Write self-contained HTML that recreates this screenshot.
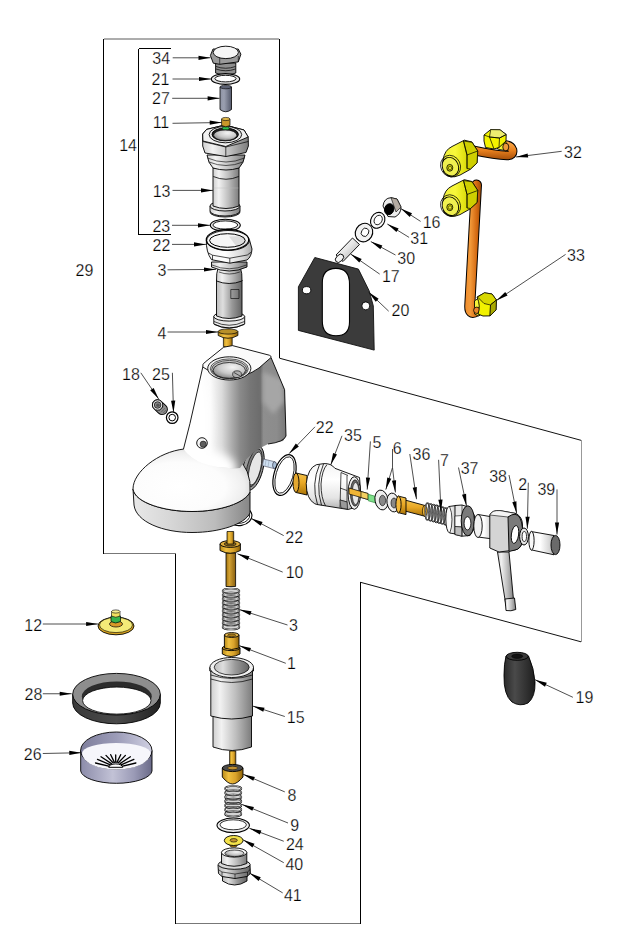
<!DOCTYPE html>
<html><head><meta charset="utf-8"><style>
html,body{margin:0;padding:0;background:#fff;}
svg{display:block;}
text{font-family:"Liberation Sans",sans-serif;font-size:16.0px;fill:#000;stroke:#fff;stroke-width:0.25px;}
</style></head><body>
<svg width="624" height="946" viewBox="0 0 624 946">
<rect width="624" height="946" fill="#fff"/>
<g fill="none" stroke-width="1" shape-rendering="crispEdges">
<path d="M103.5 38.5 V553.5 M279.5 39 V358" stroke="#000"/>

<path d="M103.5 553.5 H175.5 V923.5" stroke="#000"/>
<path d="M103.5 553.5 H175.5" stroke="#777"/>
<path d="M175.5 923.5 H360.5" stroke="#777"/>
<path d="M360.5 582.3 V923.5" stroke="#000"/>
<path d="M581 440.3 V641.8" stroke="#999"/>
</g>
<path d="M279.5 358.2 L581 440.3 M360.5 582.3 L581 641.8" stroke="#111" stroke-width="1" fill="none"/>
<path d="M104 39 H279" stroke="#5a5a5a" stroke-width="1" fill="none"/>
<path d="M138.5 48.5 H171 M138.5 48.5 V234.5 H171" stroke="#000" stroke-width="1" fill="none" shape-rendering="crispEdges"/>
<defs>
 <linearGradient id="gMetal" x1="0" x2="1" y1="0" y2="0">
  <stop offset="0" stop-color="#cfcfcf"/><stop offset="0.22" stop-color="#f2f2f2"/>
  <stop offset="0.6" stop-color="#bdbdbd"/><stop offset="1" stop-color="#7c7c7c"/>
 </linearGradient>
 <linearGradient id="gMetalD" x1="0" x2="1" y1="0" y2="0">
  <stop offset="0" stop-color="#bdbdbd"/><stop offset="0.25" stop-color="#dedede"/>
  <stop offset="0.6" stop-color="#9a9a9a"/><stop offset="1" stop-color="#646464"/>
 </linearGradient>
 <linearGradient id="gWhite" x1="0" x2="1" y1="0" y2="0">
  <stop offset="0" stop-color="#f6f6f6"/><stop offset="0.4" stop-color="#ffffff"/>
  <stop offset="0.8" stop-color="#d6d6d6"/><stop offset="1" stop-color="#a8a8a8"/>
 </linearGradient>
 <linearGradient id="gBrass" x1="0" x2="1" y1="0" y2="0">
  <stop offset="0" stop-color="#b88a18"/><stop offset="0.3" stop-color="#f0c040"/>
  <stop offset="0.65" stop-color="#d9a22a"/><stop offset="1" stop-color="#8d6208"/>
 </linearGradient>
 <linearGradient id="gBrassV" x1="0" x2="0" y1="0" y2="1">
  <stop offset="0" stop-color="#f3c24a"/><stop offset="0.45" stop-color="#e9a825"/>
  <stop offset="1" stop-color="#a97408"/>
 </linearGradient>
 <linearGradient id="gBrassDk" x1="0" x2="1" y1="0" y2="0">
  <stop offset="0" stop-color="#a07410"/><stop offset="0.35" stop-color="#d4a233"/>
  <stop offset="1" stop-color="#8a6010"/>
 </linearGradient>
 <linearGradient id="gPin" x1="0" x2="1" y1="0" y2="0">
  <stop offset="0" stop-color="#8e93a4"/><stop offset="0.35" stop-color="#9a9fb0"/>
  <stop offset="1" stop-color="#555a6c"/>
 </linearGradient>
 <linearGradient id="gHousing" gradientUnits="userSpaceOnUse" x1="185" x2="287" y1="0" y2="0">
  <stop offset="0" stop-color="#ffffff"/><stop offset="0.25" stop-color="#fafafa"/>
  <stop offset="0.36" stop-color="#dcdcdc"/><stop offset="0.46" stop-color="#acacac"/>
  <stop offset="0.54" stop-color="#8a8a8a"/><stop offset="0.64" stop-color="#767676"/>
  <stop offset="0.74" stop-color="#6c6c6c"/><stop offset="0.77" stop-color="#8e8e8e"/>
  <stop offset="0.9" stop-color="#8c8c8c"/><stop offset="1" stop-color="#767676"/>
 </linearGradient>
 <radialGradient id="gBowl" cx="0.6" cy="0.3" r="0.7">
  <stop offset="0" stop-color="#f4f4f4"/><stop offset="0.6" stop-color="#c8c8c8"/><stop offset="1" stop-color="#8a8a8a"/>
 </radialGradient>
 <linearGradient id="gPuckSide" x1="0" x2="1" y1="0" y2="0">
  <stop offset="0" stop-color="#e8e8e8"/><stop offset="0.3" stop-color="#d8d8d8"/>
  <stop offset="0.7" stop-color="#bcbcbc"/><stop offset="1" stop-color="#868686"/>
 </linearGradient>
 <radialGradient id="gPuckTop" cx="0.4" cy="0.6" r="0.65">
  <stop offset="0" stop-color="#ffffff"/><stop offset="0.6" stop-color="#fcfcfc"/><stop offset="0.85" stop-color="#eeeeee"/><stop offset="1" stop-color="#d0d0d0"/>
 </radialGradient>
 <linearGradient id="gYel" x1="0" x2="1" y1="0" y2="0">
  <stop offset="0" stop-color="#f0f040"/><stop offset="0.35" stop-color="#f8f83a"/>
  <stop offset="0.75" stop-color="#d6d600"/><stop offset="1" stop-color="#9c9c00"/>
 </linearGradient>
 <linearGradient id="gCopper" x1="0" x2="1" y1="0" y2="0">
  <stop offset="0" stop-color="#c4600c"/><stop offset="0.4" stop-color="#f39a3c"/>
  <stop offset="1" stop-color="#b85a0a"/>
 </linearGradient>
 <linearGradient id="gCopH" gradientUnits="userSpaceOnUse" x1="464" y1="0" x2="482" y2="0">
  <stop offset="0" stop-color="#f08a2a"/><stop offset="0.35" stop-color="#f39a3a"/>
  <stop offset="0.7" stop-color="#d46a12"/><stop offset="1" stop-color="#9a4806"/>
 </linearGradient>
 <linearGradient id="gCopV" gradientUnits="userSpaceOnUse" x1="0" y1="144" x2="0" y2="160">
  <stop offset="0" stop-color="#f6a040"/><stop offset="0.4" stop-color="#e8801e"/>
  <stop offset="1" stop-color="#a24c08"/>
 </linearGradient>
 <linearGradient id="g35" x1="0" x2="0" y1="0" y2="1">
  <stop offset="0" stop-color="#f4f4f4"/><stop offset="0.35" stop-color="#ffffff"/>
  <stop offset="0.75" stop-color="#e4e4e4"/><stop offset="1" stop-color="#b0b0b0"/>
 </linearGradient>
 <linearGradient id="gPin17" x1="0" x2="1" y1="0" y2="1">
  <stop offset="0" stop-color="#ffffff"/><stop offset="0.45" stop-color="#e8e8e8"/>
  <stop offset="1" stop-color="#a0a0a0"/>
 </linearGradient>
 <linearGradient id="gRubber" x1="0" x2="1" y1="0" y2="0">
  <stop offset="0" stop-color="#2a2a2a"/><stop offset="0.35" stop-color="#4a4a4a"/>
  <stop offset="1" stop-color="#1e1e1e"/>
 </linearGradient>
 <linearGradient id="gLav" x1="0" x2="1" y1="0" y2="0">
  <stop offset="0" stop-color="#8c8caa"/><stop offset="0.45" stop-color="#c2c2d6"/>
  <stop offset="0.75" stop-color="#9a9ab6"/><stop offset="1" stop-color="#6a6a88"/>
 </linearGradient>
 <linearGradient id="gLavIn" x1="0" x2="1" y1="0" y2="0">
  <stop offset="0" stop-color="#7e7e9c"/><stop offset="0.5" stop-color="#9c9cb8"/>
  <stop offset="1" stop-color="#d0d0e2"/>
 </linearGradient>
 <linearGradient id="gRing28" x1="0" x2="1" y1="0" y2="0">
  <stop offset="0" stop-color="#3a3a3a"/><stop offset="0.5" stop-color="#4a4a4a"/>
  <stop offset="1" stop-color="#222"/>
 </linearGradient>
</defs>

<!-- ===== top column ===== -->
<g stroke="#000" stroke-width="0.9">
 <!-- 34 -->
 <path d="M215.6 63 V73 Q225.7 77 235.8 73 V63 Z" fill="#8e8e8e"/>
 <path d="M216 66.5 Q225.7 70 235.5 66.5 M216 69 Q225.7 72.5 235.5 69" fill="none" stroke-width="0.7"/>
 <path d="M210.4 55.5 L213.3 63.2 L219.7 64.3 L238.3 61.9 L240.9 54.2 L238.3 49 L213 49 Z" fill="#9a9a9a"/>
 <path d="M219.7 64.3 L219.7 58 M238.3 61.9 L238.3 56" fill="none" stroke-width="0.6"/>
 <ellipse cx="225.8" cy="52.4" rx="12.6" ry="6.2" fill="#f6f6f6"/>
 <!-- 21 -->
 <ellipse cx="225.5" cy="79" rx="14.2" ry="5.4" fill="#e4e4e4" stroke-width="1.1"/>
 <ellipse cx="225.5" cy="78.6" rx="10.6" ry="3.3" fill="#fff" stroke-width="0.9"/>
 <!-- 27 -->
 <path d="M220 87 V109.5 Q225.75 114 231.5 109.5 V87 Z" fill="url(#gPin)" stroke-width="0.8"/>
 <ellipse cx="225.75" cy="87" rx="5.75" ry="1.8" fill="#5d6274" stroke-width="0.6"/>
 <!-- 13 lower ring -->
 <ellipse cx="225" cy="212" rx="15" ry="5" fill="#bbb"/>
 <path d="M210 206 V211 A15 5 0 0 0 240 211 V206 Z" fill="url(#gMetal)"/>
 <ellipse cx="225" cy="206" rx="15" ry="5" fill="#ddd"/>
 <!-- 13 cylinder -->
 <path d="M213 168 V206 Q226 211 239 206 V168 Z" fill="url(#gMetal)"/>
 <path d="M213.5 188 H238.5" stroke="#bbb" stroke-width="0.4"/>
 <path d="M213.3 176.5 Q226 182 238.7 176.5" fill="none" stroke-width="0.8"/>
 <!-- 13 neck -->
 <path d="M207 155 Q208 163 213 168 Q226 172 239 168 Q244 163 245 155 Z" fill="url(#gMetal)"/>
 <path d="M207.5 158 Q226 166 244.5 158 M209 162 Q226 169 243 162" fill="none" stroke-width="0.6"/>
 <!-- 13 hex -->
 <path d="M202.7 134 L206.6 129.4 L224.8 125 L244 130 L248.2 137 L248.4 146 L246 152.5 L226 156.5 L205 153 L202.7 146 Z" fill="url(#gMetal)"/>
 <path d="M202.7 141.5 L225.8 147 L248.3 141.5 M225.8 147 V156.3" fill="none" stroke-width="0.7"/>
 <path d="M202.7 134 L206.6 129.4 L224.8 125 L244 130 L248.2 137 L225.8 146.5 L202.9 141 Z" fill="#f0f0f0"/>
 <ellipse cx="225.4" cy="134.6" rx="16.3" ry="8.2" fill="#e8e8e8"/>
 <ellipse cx="225.2" cy="134.4" rx="13.2" ry="6.4" fill="#222"/>
 <ellipse cx="225.2" cy="135.2" rx="11.6" ry="5.3" fill="url(#gBowl)" stroke-width="0.6"/>
 <!-- 11 -->
 <rect x="222.4" y="126.8" width="6.8" height="3" rx="1.5" fill="#2fbf4f" stroke-width="0.5"/>
 <path d="M221.6 119 V125.5 Q225.8 128.2 230 125.5 V119 Z" fill="#c8962a" stroke-width="0.7"/>
 <ellipse cx="225.8" cy="119" rx="4.2" ry="1.6" fill="#e2b84a" stroke-width="0.6"/>
 <!-- 23 -->
 <ellipse cx="225.3" cy="225.3" rx="15" ry="6" fill="#e6e6e6" stroke-width="1.1"/>
 <ellipse cx="225.3" cy="225" rx="12.4" ry="4.1" fill="#fff" stroke-width="0.9"/>
</g>

<!-- ===== part 3 (upper) + 22 ===== -->
<g stroke="#000" stroke-width="0.9">
 <!-- bottom ring -->
 <path d="M213.8 316.5 V324 Q229.2 332 244.7 324 V316.5 Z" fill="#e8e8e8"/>
 <path d="M214 321.5 Q229.2 329 244.5 321.5 M214.3 324.5 Q229.2 331.5 244.3 324.5" fill="none" stroke-width="0.7"/>
 <ellipse cx="229.2" cy="316.5" rx="15.45" ry="4.6" fill="#f4f4f4"/>
 <!-- cylinder -->
 <path d="M216.5 280 V316 Q229 321 242 316 V280 Z" fill="url(#gMetalD)"/>
 <path d="M218.5 266 Q216 274 216.5 281 Q229 286 242 281 Q242.5 274 240 266 Z" fill="url(#gMetal)"/>
 <path d="M219 272 Q229.3 276 239.8 272" fill="none" stroke-width="0.6"/>
 <path d="M230.8 289.5 H239 V298.5 H230.8 Z" fill="none" stroke-width="0.6"/>
 <!-- thread ring -->
 <path d="M211.5 262 V267 Q229.3 275 247 267 V262 Z" fill="url(#gMetal)"/>
 <path d="M212 265 Q229.3 272.5 246.5 265" fill="none" stroke-width="0.6"/>
 <!-- head -->
 <path d="M206.3 240 Q206 252 211.5 259.7 L229.8 263.2 L247 260 Q251.5 257 252 249 L249.5 240 Z" fill="url(#gWhite)"/>
 <path d="M208.5 253 L212.5 255.2 L229.8 258.2 L247.3 255 L251.3 252 M229.8 258.2 V263.2 M212.5 255.2 V260" fill="none" stroke-width="0.7"/>
 <ellipse cx="228" cy="240.5" rx="21.3" ry="10" fill="#f6f6f6"/>
 <path d="M229 236.5 L244 236 L248 244 L238 248.5 Z" fill="#dcdcdc" stroke="none"/>
 <!-- 22 ring -->
 <ellipse cx="227.5" cy="239.7" rx="21.2" ry="10.3" fill="none" stroke-width="1.2"/>
 <ellipse cx="227.4" cy="240.5" rx="17.8" ry="6.8" fill="none" stroke-width="1"/>
 <!-- 4 -->
 <path d="M223.4 336 V346.5 Q227.8 349 232.2 346.5 V336 Z" fill="url(#gBrass)" stroke-width="0.7"/>
 <path d="M218.2 331.5 V335.5 Q228 341 237.9 335.5 V331.5 Z" fill="url(#gBrass)" stroke-width="0.8"/>
 <ellipse cx="228" cy="331.5" rx="9.85" ry="2.6" fill="#b8902a" stroke-width="0.7"/>
</g>

<!-- ===== housing 29 ===== -->
<clipPath id="cBody"><path d="M202.8 367 L190 423.3 L183.5 449 Q200 470 240 468 Q250 452 268 444 L283 441 L286 436 L284.6 389.7 L271 357.5 L257 369 Q232 386 202.8 367 Z"/></clipPath>
<filter id="fB4" x="-50%" y="-50%" width="200%" height="200%"><feGaussianBlur stdDeviation="4"/></filter>
<filter id="fB2" x="-50%" y="-50%" width="200%" height="200%"><feGaussianBlur stdDeviation="2"/></filter>
<g stroke="#000" stroke-width="0.9">
 <!-- side port -->
 <ellipse cx="253" cy="468" rx="10" ry="23" transform="rotate(14 253 468)" fill="#9a9a9a"/>
 <ellipse cx="254" cy="468" rx="7" ry="19.5" transform="rotate(14 254 468)" fill="#777" stroke-width="0.6"/>
 <ellipse cx="255" cy="468.5" rx="5.5" ry="17" transform="rotate(14 255 468.5)" fill="#e6e6e6" stroke-width="0.6"/>
 <!-- 22 lower ring -->
 <ellipse cx="240" cy="516.5" rx="12" ry="9" transform="rotate(-10 240 516.5)" fill="none" stroke-width="1.1"/>
 <ellipse cx="240" cy="516.5" rx="9.8" ry="6.8" transform="rotate(-10 240 516.5)" fill="none" stroke-width="0.8"/>
 <!-- puck band -->
 <path d="M133 489 C135 503 165 511.5 192 511.5 C220 511.5 245 503 250 492 L250 513 C245 524 220 532.5 192 532.5 C163 532.5 136 522 134 505 Z" fill="url(#gPuckSide)"/>
 <!-- puck top -->
 <path d="M133 489 C133 472 158 452 184 449 L235 455 Q252 470 250 492 C245 503 220 511.5 192 511.5 C165 511.5 135 503 133 489 Z" fill="url(#gPuckTop)"/>
 <!-- body -->
 <g clip-path="url(#cBody)" stroke="none">
  <rect x="180" y="340" width="110" height="135" fill="url(#gHousing)"/>
  <path d="M263 372 L283 380 L284 402 L273 414 L263 402 Z" fill="#a6a6a6" filter="url(#fB2)"/>
  <ellipse cx="200" cy="468" rx="36" ry="18" fill="#fff" filter="url(#fB4)"/>
  <ellipse cx="196" cy="420" rx="14" ry="50" fill="#fff" filter="url(#fB4)"/>
 </g>
 <path d="M183.5 449 L190 423.3 L202.8 367 M286 436 L284.6 389.7 L271 357.5 M286 436 Q284 442 268 444" fill="none"/>
 <!-- top face -->
 <path d="M202.8 367 Q202 364 205.2 362 L223.7 347.2 L232.5 345.6 L269.3 355.2 Q272 356.5 271 357.5 L259 368 Q232 387 202.8 367 Z" fill="#fbfbfb"/>
 <ellipse cx="229.3" cy="368.4" rx="21.6" ry="11.6" fill="#f0f0f0"/>
 <ellipse cx="229.3" cy="368.8" rx="19" ry="9.9" fill="#d8d8d8" stroke-width="0.6"/>
 <ellipse cx="229.3" cy="369.4" rx="17.6" ry="9" fill="#c4c4c4" stroke-width="0.6"/>
 <ellipse cx="229.3" cy="370.4" rx="16.2" ry="7.9" fill="url(#gBowl)" stroke-width="0.7"/>
 <ellipse cx="237" cy="374.2" rx="4.4" ry="3.4" fill="#b0b0b0" stroke-width="0.6"/>
 <path d="M234 372.5 L240 376" stroke-width="0.6"/>
 <!-- hole -->
 <circle cx="202" cy="443" r="5.3" fill="#f4f4f4"/>
 <circle cx="203.2" cy="444.2" r="3.1" fill="#5e5e5e" stroke-width="0.5"/>
 <!-- pin -->
 <path d="M263.5 459 L275 461.8 L274.2 468.6 L262.5 465.7 Z" fill="#cfe0f2" stroke="#445" stroke-width="0.6"/>
 <ellipse cx="274.6" cy="465.2" rx="2" ry="3.4" fill="#a9bfd8" stroke="#223" stroke-width="0.6"/>
 <path d="M266 460 L265 466.3 M269 460.7 L268 467" stroke="#8899aa" stroke-width="0.5"/>
</g>

<!-- ===== 18, 25 ===== -->
<g stroke="#000" stroke-width="0.9">
 <line x1="157.6" y1="405" x2="162.2" y2="409.4" stroke="#000" stroke-width="11.4" stroke-linecap="round"/>
 <line x1="157.6" y1="405" x2="162.2" y2="409.4" stroke="#8c8c8c" stroke-width="9.6" stroke-linecap="round"/>
 <path d="M159 411 L163.5 406.6 M161 412.3 L165.2 408 M163 413.2 L166.5 409.6" stroke="#555" stroke-width="0.7"/>
 <circle cx="157.6" cy="405" r="5.2" fill="#ececec"/>
 <circle cx="157.6" cy="405" r="3.3" fill="#8a8a8a" stroke-width="0.7"/>
 <circle cx="157.9" cy="405.3" r="1.8" fill="#555" stroke="none"/>
 <circle cx="172.2" cy="417.6" r="5.8" fill="#fff" stroke-width="1.2"/>
 <circle cx="172.2" cy="417.6" r="3.3" fill="#fff" stroke-width="1"/>
</g>

<!-- ===== side ring 22 ===== -->
<g stroke="#000" fill="none">
 <ellipse cx="284.5" cy="475" rx="10.5" ry="21" transform="rotate(16 284.5 475)" stroke-width="1.2"/>
 <ellipse cx="284.5" cy="475" rx="8.5" ry="18.8" transform="rotate(16 284.5 475)" stroke-width="0.8"/>
</g>

<!-- ===== 35, 5, 6, 36, 7, 37 ===== -->
<g stroke="#000" stroke-width="0.9">
 <!-- brass stub -->
 <path d="M296 473 L307 475.5 L307 495 L296 492.5 Z" fill="url(#gBrassV)"/>
 <ellipse cx="296" cy="482.7" rx="3" ry="9.7" fill="#e4a830"/>
 <!-- body -->
 <path d="M316.4 464.7 Q308 468 306.2 483.6 Q306.5 499 314.4 503.5 L316.4 504.4 L348.2 509.5 L356 507 L360.8 494 L359.5 477.5 L334.9 468.3 Q331 463.2 324 463.6 Z" fill="url(#g35)"/>
 <path d="M319.5 464.6 Q311 484 317.5 504.6 M323.5 464 Q315 484 321.5 505.2 M327 464.6 Q322 470 321 484 Q321 498 325.5 505.8" fill="none" stroke-width="0.8"/>
 <path d="M341 472.5 L348 475.5 M340 488 L347 490.5 M340 500 L347 502 M347 475.5 L347 508.5 M341 472.5 L340 507.5" fill="none" stroke-width="0.7"/>
 <path d="M340 500 L347 502 L347.5 509 L341 508 Z" fill="#9a9a9a" stroke-width="0.5"/>
 <ellipse cx="354.3" cy="493" rx="6.3" ry="16.3" fill="#f0f0f0"/>
 <ellipse cx="355" cy="493" rx="4.6" ry="13.2" fill="#6a6a6a" stroke-width="0.6"/>
 <ellipse cx="355.6" cy="493.5" rx="3.4" ry="11" fill="#e8e8e8" stroke-width="0.5"/>
 <!-- 5 rod -->
 <path d="M349 488 L368 493.5 L368 499.5 L349 494 Z" fill="#f0b535" stroke-width="0.7"/>
 <path d="M361 491.5 L368 493.5 L368 499.5 L361 497.5 Z" fill="#f4d060" stroke-width="0.6"/>
 <path d="M368.3 494.3 L376 496.5 L376 503 L368.3 500.8 Z" fill="#7fe08a" stroke="#1a7a2a" stroke-width="0.6"/>
 <!-- 6 washers -->
 <ellipse cx="381.5" cy="500" rx="6.5" ry="10" transform="rotate(-10 381.5 500)" fill="#eee"/>
 <ellipse cx="382.5" cy="500.5" rx="3.2" ry="5.2" fill="#888" stroke-width="0.6"/>
 <ellipse cx="393" cy="502.5" rx="6" ry="9.5" transform="rotate(-10 393 502.5)" fill="#eee"/>
 <ellipse cx="394" cy="503" rx="3" ry="5" fill="#888" stroke-width="0.6"/>
 <!-- 36 -->
 <path d="M405 500 L425 505.5 L425 516.3 L405 511 Z" fill="url(#gBrassV)"/>
 <ellipse cx="424.8" cy="511" rx="2.4" ry="5.4" fill="#e9b23a" stroke-width="0.6"/>
 <path d="M398 496 L406 498 L406 514.6 L398 512.6 Z" fill="url(#gBrassV)"/>
 <ellipse cx="398.5" cy="504.5" rx="2.6" ry="8.4" fill="#f1b83c"/>
 <!-- 7 spring -->
 <g fill="none">
 <ellipse cx="427.5" cy="511.5" rx="2.2" ry="8.6" stroke="#000" stroke-width="1.5"/>
 <ellipse cx="427.5" cy="511.5" rx="2.2" ry="8.6" stroke="#fff" stroke-width="0.5"/>
 <ellipse cx="430.5" cy="512.3" rx="2.2" ry="8.6" stroke="#000" stroke-width="1.5"/>
 <ellipse cx="430.5" cy="512.3" rx="2.2" ry="8.6" stroke="#fff" stroke-width="0.5"/>
 <ellipse cx="433.5" cy="513.1" rx="2.2" ry="8.6" stroke="#000" stroke-width="1.5"/>
 <ellipse cx="433.5" cy="513.1" rx="2.2" ry="8.6" stroke="#fff" stroke-width="0.5"/>
 <ellipse cx="436.5" cy="513.9" rx="2.2" ry="8.6" stroke="#000" stroke-width="1.5"/>
 <ellipse cx="436.5" cy="513.9" rx="2.2" ry="8.6" stroke="#fff" stroke-width="0.5"/>
 <ellipse cx="439.5" cy="514.7" rx="2.2" ry="8.6" stroke="#000" stroke-width="1.5"/>
 <ellipse cx="439.5" cy="514.7" rx="2.2" ry="8.6" stroke="#fff" stroke-width="0.5"/>
 <ellipse cx="442.5" cy="515.5" rx="2.2" ry="8.6" stroke="#000" stroke-width="1.5"/>
 <ellipse cx="442.5" cy="515.5" rx="2.2" ry="8.6" stroke="#fff" stroke-width="0.5"/>
 <ellipse cx="445.5" cy="516.3" rx="2.2" ry="8.6" stroke="#000" stroke-width="1.5"/>
 <ellipse cx="445.5" cy="516.3" rx="2.2" ry="8.6" stroke="#fff" stroke-width="0.5"/>
 </g>
 <!-- 37 nut -->
 <path d="M449 506.5 Q446 507 445.8 519 Q446 531 449.5 533 L456 534 L456 505.5 Z" fill="url(#gWhite)"/>
 <path d="M449.5 506.3 Q452 512 452 519.5 Q452 528 449.8 533" fill="none" stroke-width="0.7"/>
 <path d="M455 505.5 L462 505 L470 507.5 L474.6 516 L474.6 528 L470 535.5 L462 536.2 L455 534.5 Z" fill="#e8e8e8"/>
 <path d="M455 516 L462 515.5 L462 527 L455 526.5 Z" fill="#fafafa" stroke-width="0.6"/>
 <path d="M455 526.5 L462 527 L462 536.2 L455 534.5 Z" fill="#bdbdbd" stroke-width="0.6"/>
 <path d="M462 505 L462 536.2" fill="none" stroke-width="0.6"/>
 <ellipse cx="467.8" cy="520.8" rx="6.6" ry="15" fill="#7a7a7a"/>
 <ellipse cx="467.5" cy="523.3" rx="3.4" ry="6.6" fill="#fff" stroke-width="0.8"/>
</g>

<!-- ===== 38, 2, 39 ===== -->
<g stroke="#000" stroke-width="0.9">
 <!-- stem -->
 <path d="M497.5 552 L509 552 L514 605 L506 606 Z" fill="url(#gMetal)"/>
 <path d="M505 599 L514.5 598 L515.8 609.5 Q511 611.5 506 610.5 Z" fill="url(#gMetal)"/>
 <!-- stub cylinder -->
 <path d="M478 514.5 L493 517 L493 539 L478 537 Z" fill="url(#gWhite)"/>
 <ellipse cx="478" cy="526" rx="4.2" ry="11.5" fill="#f2f2f2"/>
 <!-- block -->
 <path d="M489.8 515 Q492 510 500 510.6 L516 513.5 Q522.5 517 522.5 525 L522.5 541 Q521 549 515 550 L499 552 L489.8 548 Z" fill="#d4d4d4"/>
 <path d="M489.8 515 Q492 510 500 510.6 L516 513.5 L508 517 Z" fill="#f4f4f4" stroke-width="0.6"/>
 <path d="M508 517 Q516 511 520 518 Q523.5 525 522.5 541 Q521 549 515 550 L509 551.5 Z" fill="#7a7a7a"/>
 <ellipse cx="515" cy="534.5" rx="3.6" ry="9" transform="rotate(8 515 534.5)" fill="#fff"/>
 <!-- 2 -->
 <ellipse cx="524" cy="536.5" rx="4.4" ry="8.5" fill="#e6e6e6" stroke-width="1"/>
 <ellipse cx="524.3" cy="536.5" rx="2.2" ry="5" fill="#fff" stroke-width="0.8"/>
 <!-- 39 -->
 <path d="M531 531.5 L554 535.5 L554 554.8 L531 549.8 Z" fill="url(#gWhite)"/>
 <ellipse cx="531.5" cy="540.7" rx="2.6" ry="9.4" fill="#f8f8f8"/>
 <ellipse cx="555.5" cy="545" rx="4.5" ry="9.6" fill="#6a6a6a"/>
</g>

<!-- ===== 16 31 30 17 20 ===== -->
<g stroke="#000" stroke-width="0.9">
 <!-- gasket 20 -->
 <path d="M298.4 286.8 L314.8 257.5 L358.4 269.1 L369.2 290.9 L373.3 305.9 L374.2 350.1 L298.4 330.4 Z" fill="#3b3b3b" stroke="#111"/>
 <path d="M322.3 283 Q322.3 268.4 335.9 268.4 Q349.5 268.4 349.5 284 L349.5 322 Q349.5 335.8 336 335.8 Q322.3 335.8 322.3 321 Z" fill="#fff" stroke="#000" stroke-width="1.1"/>
 <ellipse cx="306.6" cy="290.2" rx="4.2" ry="3.6" fill="#fff"/>
 <ellipse cx="365.8" cy="305.9" rx="4" ry="4" fill="#fff"/>
 <!-- 17 pin -->
 <path d="M336 255 L352.5 238 L359.5 244.5 L343 261.5 Z" fill="url(#gPin17)"/>
 <ellipse cx="339.5" cy="258.3" rx="3.2" ry="4.8" transform="rotate(45 339.5 258.3)" fill="#f4f4f4"/>
 <!-- 30 -->
 <ellipse cx="364" cy="232.6" rx="8.5" ry="9.5" transform="rotate(30 364 232.6)" fill="#f2f2f2" stroke-width="1.1"/>
 <ellipse cx="365" cy="232.3" rx="3.6" ry="4.3" transform="rotate(30 365 232.3)" fill="#fff" stroke-width="0.8"/>
 <!-- 31 -->
 <ellipse cx="377.7" cy="220.3" rx="6.8" ry="8.3" transform="rotate(30 377.7 220.3)" fill="#fafafa" stroke-width="1.1"/>
 <ellipse cx="378.2" cy="220" rx="3.8" ry="5" transform="rotate(30 378.2 220)" fill="#fff" stroke-width="0.8"/>
 <!-- 16 -->
 <path d="M383 206 Q384 198 391 197.7 L397 199 L401 207 Q401 214 395 217 L388 216.5 Z" fill="#ececec"/>
 <path d="M391 197.7 L397 199 L401 207 L396 212 Z" fill="#b5aca3" stroke-width="0.6"/>
 <ellipse cx="389.2" cy="209.2" rx="4.6" ry="5.6" transform="rotate(20 389.2 209.2)" fill="#000"/>
</g>

<!-- ===== copper pipes 32, 33 ===== -->
<g stroke="#000" stroke-width="0.9">
 <!-- 32 tube -->
 <path d="M474 150.5 Q495 155 507 155.5 Q513.5 155.5 512.5 150 Q511 145.5 505 145" fill="none" stroke="#000" stroke-width="9.6" stroke-linecap="round"/>
 <path d="M474 150.5 Q495 155 507 155.5 Q513.5 155.5 512.5 150 Q511 145.5 505 145" fill="none" stroke="url(#gCopV)" stroke-width="7.6" stroke-linecap="round"/>
 <!-- 32 small fitting -->
 <path d="M497 138.5 L505.5 141 Q508.5 146 506 150.8 L497.5 149 Z" fill="url(#gYel)" stroke-width="0.8"/>
 <ellipse cx="505.8" cy="147" rx="3" ry="3.8" fill="#f09a38" stroke-width="0.8"/>
 <path d="M484 135 L490.7 129.6 L500 129.8 L506.2 134.5 L506 141 L499 147.5 L494 149 L485.5 147.5 L484 141 Z" fill="#f4f400"/>
 <path d="M490.7 129.6 L500 129.8 L506.2 134.5 L499.5 138 L489.5 137 Z" fill="#eded70" stroke-width="0.7"/>
 <path d="M484 135 L489.5 137 L494 149 M489.5 137 L499.5 138 L499 147.5 M499.5 138 L506.2 134.5" fill="none" stroke-width="0.7"/>
 <!-- 32 big fitting -->
 <path d="M443 160 Q444.5 150 452 146.5 L464.3 140.2 L472 142 L477.7 151 L477 163 L470 169.5 L460 175.1 Q449 180 443.5 172 Z" fill="url(#gYel)"/>
 <path d="M463.5 141 L472 142.3 L477.7 151 L477 163 L470.5 169 L467 168.5 L467 155 Z" fill="#cfcf00" stroke-width="0.7"/>
 <path d="M463.5 141 L467 155 L477.7 151 M467 155 L467 168.5" fill="none" stroke-width="0.7"/>
 <ellipse cx="450.4" cy="166.7" rx="8" ry="9.6" transform="rotate(-25 450.4 166.7)" fill="#f0f050"/>
 <ellipse cx="450.8" cy="166.2" rx="9.8" ry="11" transform="rotate(-25 450.4 166.7)" fill="none" stroke-width="0.7"/>
 <ellipse cx="449.8" cy="167.8" rx="3" ry="3.4" fill="#d6d600" stroke-width="0.8"/>
 <ellipse cx="450" cy="168" rx="1.6" ry="1.8" fill="#e8e830" stroke-width="0.5"/>
 <!-- 33 tube -->
 <path d="M476.5 185 L469.8 305 Q469 315.5 477 311" fill="none" stroke="#000" stroke-width="11" stroke-linecap="round"/>
 <path d="M476.5 185 L469.8 305 Q469 315.5 477 311" fill="none" stroke="url(#gCopH)" stroke-width="9" stroke-linecap="round"/>
 <!-- 33 upper fitting -->
 <path d="M443 199.5 Q444.5 189.5 452 186 L464.3 179.7 L472 181.5 L477.7 190.5 L477 202.5 L470 209 L460 214.6 Q449 219.5 443.5 211.5 Z" fill="url(#gYel)"/>
 <path d="M463.5 180.5 L472 181.8 L477.7 190.5 L477 202.5 L470.5 208.5 L467 208 L467 194.5 Z" fill="#cfcf00" stroke-width="0.7"/>
 <path d="M463.5 180.5 L467 194.5 L477.7 190.5 M467 194.5 L467 208" fill="none" stroke-width="0.7"/>
 <ellipse cx="450.4" cy="206.2" rx="8" ry="9.6" transform="rotate(-25 450.4 206.2)" fill="#f0f050"/>
 <ellipse cx="450.8" cy="205.7" rx="9.8" ry="11" transform="rotate(-25 450.4 206.2)" fill="none" stroke-width="0.7"/>
 <ellipse cx="449.8" cy="207.3" rx="3" ry="3.4" fill="#d6d600" stroke-width="0.8"/>
 <ellipse cx="450" cy="207.5" rx="1.6" ry="1.8" fill="#e8e830" stroke-width="0.5"/>
 <!-- 33 lower fitting -->
 <path d="M474.5 301 L480 297 Q484 300 485 306 Q484 313 479 316 L474.5 314 Z" fill="url(#gYel)" stroke-width="0.8"/>
 <ellipse cx="476.8" cy="310.3" rx="3.2" ry="3.2" fill="#e8862a" stroke-width="0.8"/>
 <path d="M477 297 L484.5 292.8 L492 294 L496.4 300 L496 310 L490 315.9 L483 316 L478 314 Q481 306 477 297 Z" fill="#f2f200"/>
 <path d="M484.5 292.8 L492 294 L496.4 300 L490.5 305 L484 303.5 L477.5 297 Z" fill="#d8d800" stroke-width="0.7"/>
 <path d="M490.5 305 L490 315.9 M490.5 305 L496.4 300" fill="none" stroke-width="0.7"/>
 <path d="M490.5 305 L496.4 300 L496 310 L490 315.9 Z" fill="#a8a800" stroke-width="0.7"/>
</g>

<!-- ===== lower column: 22, 10, 3, 1, 15, 8, 9, 24, 40, 41 ===== -->
<g stroke="#000" stroke-width="0.9">
 <!-- 10 -->
 <path d="M226 553 V586.5 H235.6 V553 Z" fill="url(#gBrassDk)" stroke-width="0.8"/>
 <path d="M220 544 V550.5 Q230.2 556 240.4 550.5 V544 Z" fill="url(#gBrass)"/>
 <ellipse cx="230.2" cy="544" rx="10.2" ry="3.4" fill="#dcaa3a"/>
 <ellipse cx="230.2" cy="544" rx="6" ry="2" fill="#8a6a20" stroke-width="0.6"/>
 <path d="M227 531.5 V544 H233.7 V531.5 Z" fill="url(#gBrass)" stroke-width="0.7"/>
 <!-- 3 spring -->
 <g fill="none">
 <rect x="224.6" y="588.5" width="12.8" height="41.0" fill="#d4d4d4" stroke="none"/>
 <ellipse cx="231" cy="591.10" rx="8.4" ry="2.6" stroke="#000" stroke-width="1.7"/>
 <ellipse cx="231" cy="591.10" rx="8.4" ry="2.6" stroke="#fff" stroke-width="0.68"/>
 <ellipse cx="231" cy="595.08" rx="8.4" ry="2.6" stroke="#000" stroke-width="1.7"/>
 <ellipse cx="231" cy="595.08" rx="8.4" ry="2.6" stroke="#fff" stroke-width="0.68"/>
 <ellipse cx="231" cy="599.06" rx="8.4" ry="2.6" stroke="#000" stroke-width="1.7"/>
 <ellipse cx="231" cy="599.06" rx="8.4" ry="2.6" stroke="#fff" stroke-width="0.68"/>
 <ellipse cx="231" cy="603.03" rx="8.4" ry="2.6" stroke="#000" stroke-width="1.7"/>
 <ellipse cx="231" cy="603.03" rx="8.4" ry="2.6" stroke="#fff" stroke-width="0.68"/>
 <ellipse cx="231" cy="607.01" rx="8.4" ry="2.6" stroke="#000" stroke-width="1.7"/>
 <ellipse cx="231" cy="607.01" rx="8.4" ry="2.6" stroke="#fff" stroke-width="0.68"/>
 <ellipse cx="231" cy="610.99" rx="8.4" ry="2.6" stroke="#000" stroke-width="1.7"/>
 <ellipse cx="231" cy="610.99" rx="8.4" ry="2.6" stroke="#fff" stroke-width="0.68"/>
 <ellipse cx="231" cy="614.97" rx="8.4" ry="2.6" stroke="#000" stroke-width="1.7"/>
 <ellipse cx="231" cy="614.97" rx="8.4" ry="2.6" stroke="#fff" stroke-width="0.68"/>
 <ellipse cx="231" cy="618.94" rx="8.4" ry="2.6" stroke="#000" stroke-width="1.7"/>
 <ellipse cx="231" cy="618.94" rx="8.4" ry="2.6" stroke="#fff" stroke-width="0.68"/>
 <ellipse cx="231" cy="622.92" rx="8.4" ry="2.6" stroke="#000" stroke-width="1.7"/>
 <ellipse cx="231" cy="622.92" rx="8.4" ry="2.6" stroke="#fff" stroke-width="0.68"/>
 <ellipse cx="231" cy="626.90" rx="8.4" ry="2.6" stroke="#000" stroke-width="1.7"/>
 <ellipse cx="231" cy="626.90" rx="8.4" ry="2.6" stroke="#fff" stroke-width="0.68"/>
 </g>
 <!-- 1 -->
 <path d="M222.3 648 V654 Q231 659 240 654 V648 Z" fill="url(#gBrass)"/>
 <ellipse cx="231.1" cy="648" rx="8.9" ry="2.6" fill="#d9a532"/>
 <path d="M224.4 635 V648 Q231.7 651 239 648 V635 Z" fill="url(#gBrass)"/>
 <ellipse cx="231.7" cy="635" rx="7.3" ry="2.4" fill="#e8b84a"/>
 <ellipse cx="231.7" cy="635.3" rx="4" ry="1.4" fill="#a87a18" stroke-width="0.5"/>
 <!-- 15 -->
 <path d="M213 716 V747 Q232.2 754 251.5 747 V716 Z" fill="url(#gMetal)"/>
 <path d="M210.8 668 V716 Q231.7 722 252.5 716 V668 Z" fill="url(#gMetal)"/>
 <path d="M210.8 675 Q231.7 682 252.5 675 M210.8 679 Q231.7 686 252.5 679" fill="none" stroke-width="0.7"/>
 <path d="M209.8 667.5 V671 Q231.7 679 253.5 671 V667.5 Z" fill="#e4e4e4"/>
 <ellipse cx="231.7" cy="667.5" rx="21.8" ry="10" fill="#f0f0f0"/>
 <ellipse cx="231.7" cy="667.2" rx="17.5" ry="7.8" fill="url(#gMetalD)" stroke-width="0.7"/>
 <!-- 8 -->
 <path d="M229.6 751 V766 H235.8 V751 Z" fill="url(#gBrass)" stroke-width="0.7"/>
 <path d="M222.3 768 V777 Q228 784 232.6 784 Q237 784 243 777 V768 Z" fill="url(#gBrass)"/>
 <ellipse cx="232.6" cy="768" rx="10.3" ry="3.6" fill="#4a4a4a"/>
 <ellipse cx="232.6" cy="768" rx="5" ry="1.8" fill="#c09030" stroke-width="0.5"/>
 <!-- 9 spring -->
 <g fill="none">
 <rect x="227.0" y="786.0" width="12.4" height="30.5" fill="#d4d4d4" stroke="none"/>
 <ellipse cx="233.2" cy="788.60" rx="8.2" ry="2.6" stroke="#000" stroke-width="1.6"/>
 <ellipse cx="233.2" cy="788.60" rx="8.2" ry="2.6" stroke="#fff" stroke-width="0.64"/>
 <ellipse cx="233.2" cy="792.82" rx="8.2" ry="2.6" stroke="#000" stroke-width="1.6"/>
 <ellipse cx="233.2" cy="792.82" rx="8.2" ry="2.6" stroke="#fff" stroke-width="0.64"/>
 <ellipse cx="233.2" cy="797.03" rx="8.2" ry="2.6" stroke="#000" stroke-width="1.6"/>
 <ellipse cx="233.2" cy="797.03" rx="8.2" ry="2.6" stroke="#fff" stroke-width="0.64"/>
 <ellipse cx="233.2" cy="801.25" rx="8.2" ry="2.6" stroke="#000" stroke-width="1.6"/>
 <ellipse cx="233.2" cy="801.25" rx="8.2" ry="2.6" stroke="#fff" stroke-width="0.64"/>
 <ellipse cx="233.2" cy="805.47" rx="8.2" ry="2.6" stroke="#000" stroke-width="1.6"/>
 <ellipse cx="233.2" cy="805.47" rx="8.2" ry="2.6" stroke="#fff" stroke-width="0.64"/>
 <ellipse cx="233.2" cy="809.68" rx="8.2" ry="2.6" stroke="#000" stroke-width="1.6"/>
 <ellipse cx="233.2" cy="809.68" rx="8.2" ry="2.6" stroke="#fff" stroke-width="0.64"/>
 <ellipse cx="233.2" cy="813.90" rx="8.2" ry="2.6" stroke="#000" stroke-width="1.6"/>
 <ellipse cx="233.2" cy="813.90" rx="8.2" ry="2.6" stroke="#fff" stroke-width="0.64"/>
 </g>
 <!-- 24 -->
 <ellipse cx="233.2" cy="825.3" rx="16.2" ry="7.3" fill="#eee" stroke-width="1.1"/>
 <ellipse cx="233.2" cy="824.8" rx="13.2" ry="5" fill="#fff" stroke-width="0.8"/>
 <!-- 40 -->
 <path d="M228 843 L231 847 L236 847 L239 843 Z" fill="#c08a20" stroke-width="0.6"/>
 <ellipse cx="233.7" cy="840.5" rx="9.4" ry="5" fill="#f4e24a"/>
 <ellipse cx="233.7" cy="840.3" rx="3.6" ry="1.8" fill="#c09030" stroke-width="0.6"/>
 <!-- 41 -->
 <path d="M222.5 876 V881 Q234.5 889 247 881 V876 Z" fill="url(#gMetalD)"/>
 <path d="M218 865 L218.5 873.5 L222 876.5 L235 878.5 L247 876.5 L250.4 873.5 L250 865 Z" fill="url(#gMetalD)"/>
 <path d="M218.2 869.5 L222 872 L235 874 L247.5 872 L250.2 869.5 M235 874 V878.5 M222 872 V876.5 M247.5 872 V876.5" fill="none" stroke-width="0.6"/>
 <ellipse cx="234.2" cy="864.5" rx="16" ry="4.8" fill="#d8d8d8"/>
 <path d="M221.5 852.5 V863.5 Q234 869 246.8 863.5 V852.5 Z" fill="url(#gMetal)"/>
 <ellipse cx="234.1" cy="852.5" rx="12.7" ry="4.6" fill="#fafafa"/>
 <ellipse cx="234.4" cy="853.3" rx="9.6" ry="3.3" fill="url(#gBowl)" stroke-width="0.7"/>
</g>

<!-- ===== left column: 12, 28, 26 ===== -->
<g stroke="#000" stroke-width="0.9">
 <!-- 12 -->
 <ellipse cx="116" cy="626" rx="18" ry="8.8" fill="#d9a520"/>
 <ellipse cx="116" cy="625" rx="16.5" ry="7.6" fill="#f4ea78" stroke-width="0.6"/>
 <ellipse cx="116" cy="624" rx="6.5" ry="3" fill="#d89a28" stroke-width="0.7"/>
 <path d="M111 616 V621.5 Q115.5 624.5 120.5 621.5 V616 Z" fill="#34b24a" stroke-width="0.7"/>
 <path d="M111.5 611.5 V616 Q115.8 618.5 120 616 V611.5 Z" fill="#f2e060" stroke-width="0.6"/>
 <ellipse cx="115.8" cy="611.5" rx="4.2" ry="1.6" fill="#f8f090" stroke-width="0.6"/>
 <!-- 28 -->
 <path d="M72.7 694.2 V703 A43.8 20.8 0 0 0 160.3 703 V694.2 Z" fill="url(#gRing28)"/>
 <ellipse cx="116.5" cy="694.2" rx="43.8" ry="20.8" fill="#8e8e8e"/>
 <ellipse cx="116.8" cy="696.4" rx="35" ry="15" fill="#2c2c2c" stroke="none"/>
 <ellipse cx="116.8" cy="700.6" rx="34.2" ry="13.5" fill="#fff" stroke-width="0.8"/>
 <!-- 26 -->
 <path d="M80.7 750.5 V771 A35.7 13 0 0 0 152 771 V750.5 Z" fill="url(#gLav)"/>
 <ellipse cx="116.3" cy="750.5" rx="35.7" ry="18.5" fill="url(#gLavIn)"/>
 <path d="M82 753 A34.3 16.5 0 0 0 150.6 753 A34.3 10 0 0 0 82 753 Z" fill="#f6f6fb" stroke="none"/>
 <g stroke="#000" stroke-width="1.3" stroke-linecap="round">
  <path d="M109.7 766.3 L95.5 763 M110.3 764.8 L97.5 759.3 M111.4 763.6 L101 756.8 M113 762.7 L106 755.4 M115.7 762.3 L115.7 755 M114.4 762.4 L110.7 754.7 M117 762.4 L120.7 754.7 M118.4 762.7 L125.4 755.4 M120 763.6 L130.4 756.8 M121.1 764.8 L133.9 759.3 M121.7 766.3 L135.9 763"/>
 </g>
 <path d="M108.7 767.3 A7 3.4 0 0 1 122.7 767.3 Z" fill="#fff" stroke="#000" stroke-width="1"/>
</g>

<!-- ===== knob 19 ===== -->
<g stroke="#000" stroke-width="0.9">
 <path d="M506 656 Q504 664 504 675 Q503.5 695 512 702 Q520 707 528 703 Q535.5 697 535 682 Q534 668 528.5 656 Z" fill="url(#gRubber)"/>
 <ellipse cx="517.2" cy="656.3" rx="11" ry="4" fill="#3a3a3a"/>
 <ellipse cx="517.2" cy="656.3" rx="5.5" ry="2.2" fill="#111" stroke-width="0.5"/>
</g>

<g>
<path d="M172.70 57.80 L210.50 57.80" fill="none" stroke="#222" stroke-width="0.8"/>
<path d="M210.50 57.80 L198.50 59.90 L198.50 55.70 Z" fill="#000"/>
<path d="M172.50 79.00 L211.00 79.00" fill="none" stroke="#222" stroke-width="0.8"/>
<path d="M211.00 79.00 L199.00 81.10 L199.00 76.90 Z" fill="#000"/>
<path d="M172.20 98.30 L219.60 98.30" fill="none" stroke="#222" stroke-width="0.8"/>
<path d="M219.60 98.30 L207.60 100.40 L207.60 96.20 Z" fill="#000"/>
<path d="M172.50 123.30 L221.70 122.50" fill="none" stroke="#222" stroke-width="0.8"/>
<path d="M221.70 122.50 L209.74 124.79 L209.67 120.60 Z" fill="#000"/>
<path d="M172.50 190.40 L213.00 190.40" fill="none" stroke="#222" stroke-width="0.8"/>
<path d="M213.00 190.40 L201.00 192.50 L201.00 188.30 Z" fill="#000"/>
<path d="M172.00 225.30 L210.00 225.30" fill="none" stroke="#222" stroke-width="0.8"/>
<path d="M210.00 225.30 L198.00 227.40 L198.00 223.20 Z" fill="#000"/>
<path d="M172.00 244.40 L206.00 244.40" fill="none" stroke="#222" stroke-width="0.8"/>
<path d="M206.00 244.40 L194.00 246.50 L194.00 242.30 Z" fill="#000"/>
<path d="M167.50 269.80 L216.00 269.40" fill="none" stroke="#222" stroke-width="0.8"/>
<path d="M216.00 269.40 L204.02 271.60 L203.98 267.40 Z" fill="#000"/>
<path d="M167.50 332.00 L218.00 332.00" fill="none" stroke="#222" stroke-width="0.8"/>
<path d="M218.00 332.00 L206.00 334.10 L206.00 329.90 Z" fill="#000"/>
<path d="M140.80 372.80 L158.70 399.10" fill="none" stroke="#222" stroke-width="0.8"/>
<path d="M158.70 399.10 L150.21 390.36 L153.68 388.00 Z" fill="#000"/>
<path d="M172.40 372.80 L173.50 412.60" fill="none" stroke="#222" stroke-width="0.8"/>
<path d="M173.50 412.60 L171.07 400.66 L175.27 400.55 Z" fill="#000"/>
<path d="M315.00 426.80 L289.00 453.70" fill="none" stroke="#222" stroke-width="0.8"/>
<path d="M289.00 453.70 L295.83 443.61 L298.85 446.53 Z" fill="#000"/>
<path d="M342.00 435.80 L330.70 465.00" fill="none" stroke="#222" stroke-width="0.8"/>
<path d="M330.70 465.00 L333.07 453.05 L336.99 454.57 Z" fill="#000"/>
<path d="M370.40 441.40 L367.20 489.60" fill="none" stroke="#222" stroke-width="0.8"/>
<path d="M367.20 489.60 L365.90 477.49 L370.09 477.77 Z" fill="#000"/>
<path d="M392.50 449.00 L392.50 467.50 L385.80 489.60" fill="none" stroke="#222" stroke-width="0.8"/>
<path d="M385.80 489.60 L387.27 477.51 L391.29 478.73 Z" fill="#000"/>
<path d="M392.50 467.50 L395.40 492.50" fill="none" stroke="#222" stroke-width="0.8"/>
<path d="M395.40 492.50 L391.93 480.82 L396.10 480.34 Z" fill="#000"/>
<path d="M409.80 454.00 L416.50 499.20" fill="none" stroke="#222" stroke-width="0.8"/>
<path d="M416.50 499.20 L412.66 487.64 L416.82 487.02 Z" fill="#000"/>
<path d="M438.60 459.80 L441.00 511.70" fill="none" stroke="#222" stroke-width="0.8"/>
<path d="M441.00 511.70 L438.35 499.81 L442.54 499.62 Z" fill="#000"/>
<path d="M458.50 467.50 L466.50 506.00" fill="none" stroke="#222" stroke-width="0.8"/>
<path d="M466.50 506.00 L462.00 494.68 L466.11 493.82 Z" fill="#000"/>
<path d="M509.00 475.00 L516.70 513.50" fill="none" stroke="#222" stroke-width="0.8"/>
<path d="M516.70 513.50 L512.29 502.14 L516.41 501.32 Z" fill="#000"/>
<path d="M528.30 482.70 L527.30 528.80" fill="none" stroke="#222" stroke-width="0.8"/>
<path d="M527.30 528.80 L525.46 516.76 L529.66 516.85 Z" fill="#000"/>
<path d="M557.00 489.40 L557.00 534.60" fill="none" stroke="#222" stroke-width="0.8"/>
<path d="M557.00 534.60 L554.90 522.60 L559.10 522.60 Z" fill="#000"/>
<path d="M420.60 221.40 L400.80 208.60" fill="none" stroke="#222" stroke-width="0.8"/>
<path d="M400.80 208.60 L412.02 213.35 L409.74 216.88 Z" fill="#000"/>
<path d="M409.10 237.40 L387.30 224.00" fill="none" stroke="#222" stroke-width="0.8"/>
<path d="M387.30 224.00 L398.62 228.49 L396.42 232.07 Z" fill="#000"/>
<path d="M395.50 255.00 L370.80 241.60" fill="none" stroke="#222" stroke-width="0.8"/>
<path d="M370.80 241.60 L382.35 245.48 L380.35 249.17 Z" fill="#000"/>
<path d="M379.70 274.10 L350.60 254.00" fill="none" stroke="#222" stroke-width="0.8"/>
<path d="M350.60 254.00 L361.67 259.09 L359.28 262.55 Z" fill="#000"/>
<path d="M388.70 311.20 L368.50 292.00" fill="none" stroke="#222" stroke-width="0.8"/>
<path d="M368.50 292.00 L378.64 298.75 L375.75 301.79 Z" fill="#000"/>
<path d="M561.70 151.30 L516.00 157.00" fill="none" stroke="#222" stroke-width="0.8"/>
<path d="M516.00 157.00 L527.65 153.43 L528.17 157.60 Z" fill="#000"/>
<path d="M565.60 254.40 L496.40 300.50" fill="none" stroke="#222" stroke-width="0.8"/>
<path d="M496.40 300.50 L505.22 292.10 L507.55 295.59 Z" fill="#000"/>
<path d="M283.70 535.60 L251.00 518.30" fill="none" stroke="#222" stroke-width="0.8"/>
<path d="M251.00 518.30 L262.59 522.06 L260.62 525.77 Z" fill="#000"/>
<path d="M282.70 572.10 L237.50 553.80" fill="none" stroke="#222" stroke-width="0.8"/>
<path d="M237.50 553.80 L249.41 556.36 L247.83 560.25 Z" fill="#000"/>
<path d="M287.50 625.00 L239.40 609.60" fill="none" stroke="#222" stroke-width="0.8"/>
<path d="M239.40 609.60 L251.47 611.26 L250.19 615.26 Z" fill="#000"/>
<path d="M285.80 663.30 L239.00 645.60" fill="none" stroke="#222" stroke-width="0.8"/>
<path d="M239.00 645.60 L250.97 647.88 L249.48 651.81 Z" fill="#000"/>
<path d="M284.80 716.50 L252.50 706.00" fill="none" stroke="#222" stroke-width="0.8"/>
<path d="M252.50 706.00 L264.56 707.71 L263.26 711.71 Z" fill="#000"/>
<path d="M284.80 791.90 L243.00 774.20" fill="none" stroke="#222" stroke-width="0.8"/>
<path d="M243.00 774.20 L254.87 776.95 L253.23 780.81 Z" fill="#000"/>
<path d="M288.00 823.00 L242.00 804.40" fill="none" stroke="#222" stroke-width="0.8"/>
<path d="M242.00 804.40 L253.91 806.95 L252.34 810.85 Z" fill="#000"/>
<path d="M283.75 841.25 L249.40 828.30" fill="none" stroke="#222" stroke-width="0.8"/>
<path d="M249.40 828.30 L261.37 830.57 L259.89 834.50 Z" fill="#000"/>
<path d="M283.75 862.70 L243.00 839.80" fill="none" stroke="#222" stroke-width="0.8"/>
<path d="M243.00 839.80 L254.49 843.85 L252.43 847.51 Z" fill="#000"/>
<path d="M282.70 892.90 L249.40 873.00" fill="none" stroke="#222" stroke-width="0.8"/>
<path d="M249.40 873.00 L260.78 877.35 L258.62 880.96 Z" fill="#000"/>
<path d="M42.80 624.00 L98.10 624.00" fill="none" stroke="#222" stroke-width="0.8"/>
<path d="M98.10 624.00 L86.10 626.10 L86.10 621.90 Z" fill="#000"/>
<path d="M42.80 693.75 L71.70 693.75" fill="none" stroke="#222" stroke-width="0.8"/>
<path d="M71.70 693.75 L59.70 695.85 L59.70 691.65 Z" fill="#000"/>
<path d="M42.80 753.50 L81.30 752.70" fill="none" stroke="#222" stroke-width="0.8"/>
<path d="M81.30 752.70 L69.35 755.05 L69.26 750.85 Z" fill="#000"/>
<path d="M572.90 697.30 L535.00 679.70" fill="none" stroke="#222" stroke-width="0.8"/>
<path d="M535.00 679.70 L546.77 682.85 L545.00 686.66 Z" fill="#000"/>
</g>
<g>
<text x="152.25" y="64.45">34</text>
<text x="151.50" y="84.85">21</text>
<text x="152.10" y="104.00">27</text>
<text x="152.65" y="128.25">11</text>
<text x="119.20" y="150.70">14</text>
<text x="152.70" y="196.80">13</text>
<text x="152.45" y="232.30">23</text>
<text x="152.55" y="250.75">22</text>
<text x="157.55" y="276.00">3</text>
<text x="75.55" y="276.00">29</text>
<text x="157.55" y="338.50">4</text>
<text x="122.00" y="380.00">18</text>
<text x="152.10" y="380.00">25</text>
<text x="315.80" y="433.10">22</text>
<text x="344.00" y="440.50">35</text>
<text x="372.50" y="447.75">5</text>
<text x="392.75" y="454.25">6</text>
<text x="412.55" y="460.00">36</text>
<text x="439.90" y="466.25">7</text>
<text x="460.70" y="473.80">37</text>
<text x="489.20" y="481.55">38</text>
<text x="518.20" y="489.60">2</text>
<text x="537.45" y="495.15">39</text>
<text x="422.70" y="227.85">16</text>
<text x="410.25" y="243.95">31</text>
<text x="397.30" y="264.40">30</text>
<text x="381.90" y="282.40">17</text>
<text x="391.50" y="315.60">20</text>
<text x="564.05" y="158.00">32</text>
<text x="567.00" y="260.70">33</text>
<text x="285.35" y="542.85">22</text>
<text x="285.70" y="577.65">10</text>
<text x="289.10" y="630.70">3</text>
<text x="287.10" y="669.40">1</text>
<text x="286.75" y="722.55">15</text>
<text x="287.62" y="800.68">8</text>
<text x="290.15" y="830.75">9</text>
<text x="285.95" y="849.65">24</text>
<text x="285.45" y="870.25">40</text>
<text x="283.90" y="900.68">41</text>
<text x="24.25" y="630.80">12</text>
<text x="24.50" y="699.85">28</text>
<text x="23.75" y="760.00">26</text>
<text x="575.60" y="703.25">19</text>
</g>
</svg>
</body></html>
